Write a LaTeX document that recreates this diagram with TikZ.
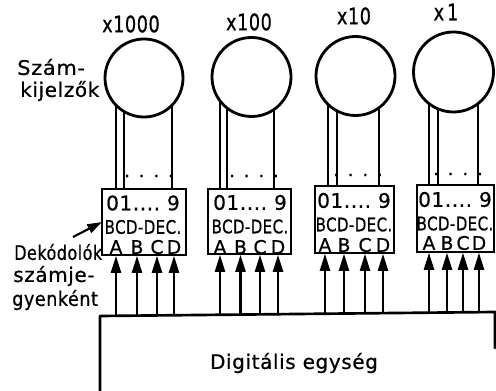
\documentclass[tikz,border=0pt]{standalone}
\usepackage{graphicx}
\usepackage{fontspec}
\setmainfont[FakeBold=0.7,LetterSpace=3]{DejaVu Sans}
\usetikzlibrary{arrows.meta,calc}
\tikzset{
  x=0.75pt,y=-0.75pt,
  ln/.style={line width=2pt,line cap=round,line join=round},
  wire/.style={line width=1.8pt},
  disp/.style={circle,draw,line width=2.1pt,inner sep=0pt,outer sep=0pt},
  dec/.style={rectangle,draw,line width=2.1pt,inner sep=0pt,outer sep=0pt},
  arr/.style={line width=2pt,-{Triangle[length=13pt,width=7.5pt]},shorten >=0.5pt},
  lab/.style={inner sep=0pt,font=\fontsize{15}{17}\selectfont},
  big/.style={inner sep=0pt,font=\fontsize{17}{19}\selectfont},
  rowa/.style={inner sep=0pt,font=\fontsize{15}{17}\selectfont},
  rowb/.style={inner sep=0pt,font=\fontsize{14}{16}\selectfont},
  rowc/.style={inner sep=0pt,font=\fontsize{14}{16}\selectfont},
}
\begin{document}
\begin{tikzpicture}
\useasboundingbox (0,0) rectangle (496,391);

% displays, decoders, multiplier labels and wires
\foreach \n/\cx/\cy/\r/\bx/\by/\bw/\bh/\mx/\my/\mt/\wa/\wb/\wc/\dy/\dx/\rx in {
  1/144/78/78/144/222/84/66/131/24/x1000/224/239/316/176/149/143,
  2/251.5/77/79/249.5/221.5/83/65/249/22/x100/217/232/305/176/254/250,
  3/355.5/76/79/354.5/219.5/79/67/354/16/x10/226/242/306/175/358/354,
  4/453.5/72/80/455.5/218.5/77/67/446/12/x\,1/232/247/308/174/458/455}{
  \node[disp,minimum size=\r*0.75pt] (c\n) at (\cx,\cy) {};
  \node[dec,minimum width=\bw*0.75pt,minimum height=\bh*0.75pt] (b\n) at (\bx,\by) {};
  \node[big] (m\n) at (\mx,\my) {\scalebox{0.78}[1]{\mt}};
  \draw[wire] (c\n.\wa) -- (c\n.\wa |- b\n.north);
  \draw[wire] (c\n.\wb) -- (c\n.\wb |- b\n.north);
  \draw[wire] (c\n.\wc) -- (c\n.\wc |- b\n.north);
  \node[rowa] (p\n) at (\rx,\by-19) {01....~9};
  \node[rowb] (q\n) at (\rx,\by+5) {\scalebox{0.8}[1]{BCD-DEC.}};
  \node[inner sep=0pt,font=\fontsize{14}{16}\selectfont] (d\n) at (\dx,\dy) {. . . .};
}

% digital unit
\coordinate (dl) at (100,316);
\coordinate (dr) at (495,312);
\coordinate (dlb) at (100,391);
\coordinate (drb) at (495,348);
\draw[ln] (dlb) -- (dl) -- (dr) -- (drb);
\node[inner sep=0pt,font=\fontsize{15}{18}\selectfont] (dig) at (294,363) {Digitális egység};

% inputs with their letters
\foreach \n/\x/\l/\ly in {
  1/116/A/247,1/137/B/247,1/157/C/247,1/174/D/247,
  2/220/A/247,2/240.5/B/247,2/260/C/247,2/278/D/247,
  3/325/A/245,3/344/B/245,3/365/C/245,3/383/D/245,
  4/429/A/243,4/447/B/243,4/463/C/243,4/479/D/243}{
  \coordinate (f\n\l) at ($(dl)!{(\x-100)/395}!(dr)$);
  \node[rowc] (t\n\l) at (\x,\ly) {\l};
  \draw[arr] (f\n\l) -- (f\n\l |- b\n.south);
}

% side labels
\node[lab,anchor=west] (sz) at (17,67) {\scalebox{1.05}[1]{Szám-}};
\node[lab,anchor=west] (ki) at (20,91) {kijelzők};
\node[lab,anchor=west] (de) at (14,252) {\scalebox{0.8}[1]{Dekódolók}};
\node[lab,anchor=west] (sj) at (13,276) {számje-};
\node[lab,anchor=west] (gy) at (12,300) {\scalebox{0.88}[1]{gyenként}};
\coordinate (ds) at (73,237);
\draw[line width=1.6pt,-{Triangle[length=11pt,width=7pt]}] (ds) -- (b1.west);
\end{tikzpicture}
\end{document}
